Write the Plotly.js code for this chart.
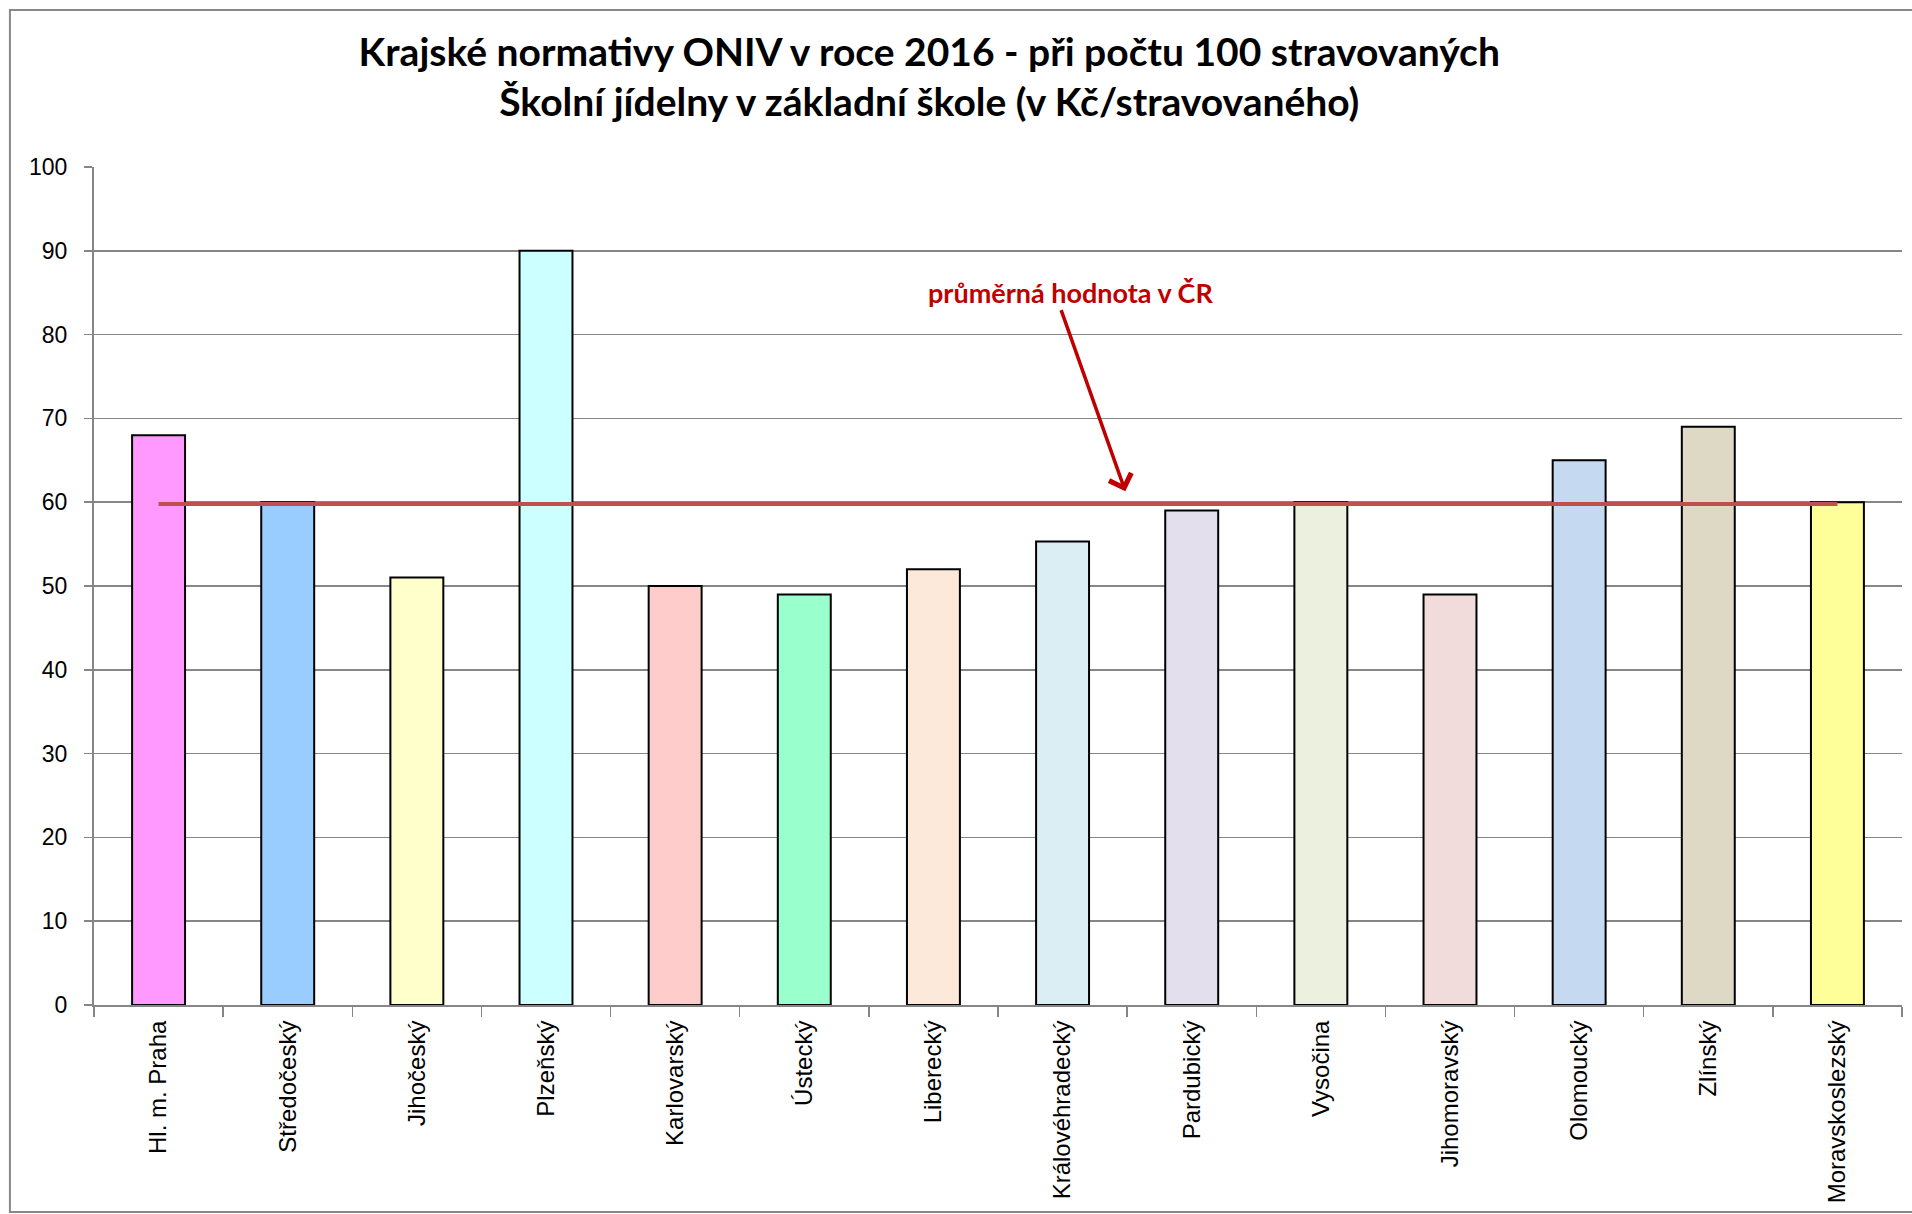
<!DOCTYPE html>
<html>
<head>
<meta charset="utf-8">
<script src="https://cdn.plot.ly/plotly-3.0.1.min.js"></script>
<style>html,body{margin:0;padding:0;background:#fff;}#chart{width:1912px;height:1214px;}</style>
</head>
<body>
<div id="chart"></div>
<script>
// ---- data ----
const regions = ["Hl. m. Praha","Středočeský","Jihočeský","Plzeňský","Karlovarský","Ústecký","Liberecký","Královéhradecký","Pardubický","Vysočina","Jihomoravský","Olomoucký","Zlínský","Moravskoslezský"];
const normValues = [68, 60, 51, 90, 50, 49, 52, 55.3, 59, 60, 49, 65, 69, 60];
const barColors = ["#FF99FF","#99CCFF","#FFFFCC","#CCFFFF","#FFCCCC","#99FFCC","#FDE9D9","#DAEEF3","#E4DFEC","#EBF1DE","#F2DCDB","#C5D9F1","#DDD9C4","#FFFF99"];
const avgValue = 59.8;
const yTicks = [0,10,20,30,40,50,60,70,80,90,100];
const titleLines = ["Krajské normativy ONIV v roce 2016 - při počtu 100 stravovaných","Školní jídelny v základní škole (v Kč/stravovaného)"];
const avgLabel = "průměrná hodnota v ČR";

const grid = "#868686";

const traces = [
  {
    type: "bar",
    x: regions,
    y: normValues,
    marker: {color: barColors, line: {color: "#000000", width: 2}},
    width: 0.41,
    hoverinfo: "x+y",
    showlegend: false
  },
  {
    type: "scatter",
    mode: "lines",
    x: [regions[0], regions[regions.length-1]],
    y: [avgValue, avgValue],
    line: {color: "#C0504D", width: 4},
    showlegend: false,
    hoverinfo: "y"
  }
];

const layout = {
  width: 1912,
  height: 1214,
  paper_bgcolor: "#ffffff",
  plot_bgcolor: "#ffffff",
  font: {family: "Liberation Sans, Arial, sans-serif", size: 23, color: "#000"},
  margin: {l: 94, r: 10, t: 167, b: 209},
  title: {
    text: titleLines.join("<br>"),
    font: {family: "Lato, Carlito, sans-serif", size: 39, weight: "bold", color: "#000"},
    x: 0.486, xanchor: "center",
    y: 0.946, yref: "container", yanchor: "middle"
  },
  showlegend: false,
  bargap: 0.59,
  xaxis: {
    type: "category",
    tickson: "boundaries",
    ticks: "outside",
    ticklen: 10,
    tickwidth: 1.5,
    tickcolor: grid,
    tickangle: -90,
    showline: true,
    linecolor: grid,
    linewidth: 2,
    showgrid: false,
    zeroline: false,
    ticklabelstandoff: 4,
    tickfont: {family: "Liberation Sans, Arial, sans-serif", size: 24, color: "#000"},
    range: [-0.5, regions.length - 0.5]
  },
  yaxis: {
    range: [0, 100],
    tickvals: yTicks,
    ticktext: yTicks.map(String),
    ticks: "outside",
    ticklen: 8,
    tickwidth: 1.5,
    tickcolor: grid,
    showline: true,
    linecolor: grid,
    linewidth: 2,
    showgrid: true,
    gridcolor: grid,
    gridwidth: 1.5,
    zeroline: false,
    ticklabelstandoff: 12,
    tickfont: {family: "Liberation Sans, Arial, sans-serif", size: 23, color: "#000"}
  },
  shapes: [
    {type: "rect", xref: "paper", yref: "paper", layer: "below",
     x0: -0.0465, x1: 1.01, y0: -0.247, y1: 1.1874,
     line: {color: "#888888", width: 2}, fillcolor: "rgba(0,0,0,0)"}
  ],
  annotations: [
    {
      xref: "x", yref: "y", x: 7.062, y: 85.0,
      text: "<b>" + avgLabel + "</b>",
      showarrow: false,
      font: {family: "Lato, Carlito, sans-serif", size: 27, color: "#C00000"},
      xanchor: "center", yanchor: "middle"
    },
    {
      xref: "x", yref: "y", x: 7.486, y: 61.3,
      axref: "x", ayref: "y", ax: 6.985, ay: 83.1,
      text: "",
      showarrow: true,
      arrowhead: 4, arrowsize: 1.3, arrowwidth: 3.5,
      arrowcolor: "#C00000"
    }
  ]
};

Plotly.newPlot("chart", traces, layout, {displayModeBar: false, staticPlot: true});
</script>
</body>
</html>
